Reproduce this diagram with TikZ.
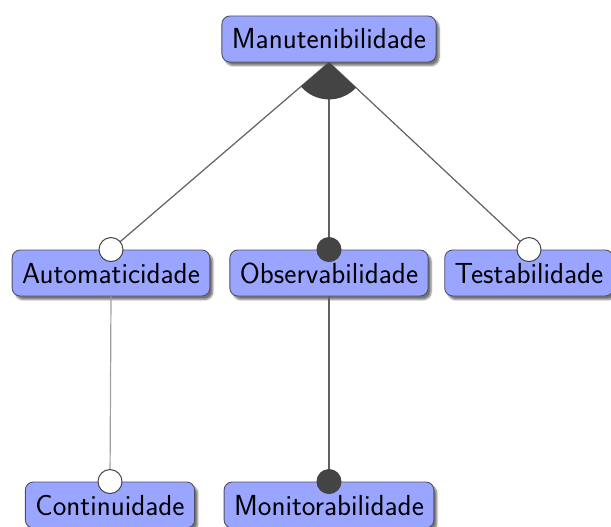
\documentclass[tikz,border=0pt]{standalone}
\usetikzlibrary{calc,shadows.blur}
\definecolor{featfill}{HTML}{99A5FF}
\definecolor{featline}{HTML}{505060}
\definecolor{dark}{HTML}{444444}
\tikzset{
  feature/.style={draw=featline, line width=0.9pt, fill=featfill, rounded corners=8pt,
    font=\sffamily\fontsize{29}{32}\selectfont, text height=20pt, text depth=0pt,
    minimum height=46pt, inner xsep=10pt,
    blur shadow={shadow xshift=3pt, shadow yshift=-3.5pt, shadow blur steps=6, shadow opacity=55}},
  edge/.style={draw=dark!85, line width=1.2pt},
  lightedge/.style={draw=gray!75, line width=1.2pt},
  optional/.style={draw=dark, fill=white, line width=1pt},
  mandatory/.style={draw=dark, fill=dark, line width=1pt},
}
\begin{document}
\begin{tikzpicture}[x=1pt, y=-1pt]
  \useasboundingbox (0,0) rectangle (611,527);

  % features
  \node[feature] (root) at (329,39)  {Manutenibilidade};
  \node[feature] (aut)  at (111,273) {Automaticidade};
  \node[feature] (obs)  at (329,273) {Observabilidade};
  \node[feature] (tes)  at (529,273) {Testabilidade};
  \node[feature] (con)  at (110,505) {Continuidade};
  \node[feature] (mon)  at (329,505) {Monitorabilidade};

  % decomposition edges
  \draw[edge] (root.south) -- (aut.north);
  \draw[edge] (root.south) -- (obs.north);
  \draw[edge] (root.south) -- (tes.north);
  \draw[lightedge] (aut.south) -- (con.north);
  \draw[edge] (obs.south) -- (mon.north);

  % group cone below the root
  \fill[dark] let \p1=($(aut.north)-(root.south)$), \p2=($(tes.north)-(root.south)$),
      \n1={atan2(\y1,\x1)}, \n2={atan2(\y2,\x2)} in
      (root.south) -- ++(\n1:37pt) arc[start angle=\n1, end angle=\n2, radius=37pt] -- cycle;

  % optional / mandatory markers
  \draw[optional]  (aut.north) circle[radius=12pt];
  \draw[mandatory] (obs.north) circle[radius=12pt];
  \draw[optional]  (tes.north) circle[radius=12pt];
  \draw[optional]  (con.north) circle[radius=12pt];
  \draw[mandatory] (mon.north) circle[radius=12pt];
\end{tikzpicture}
\end{document}
